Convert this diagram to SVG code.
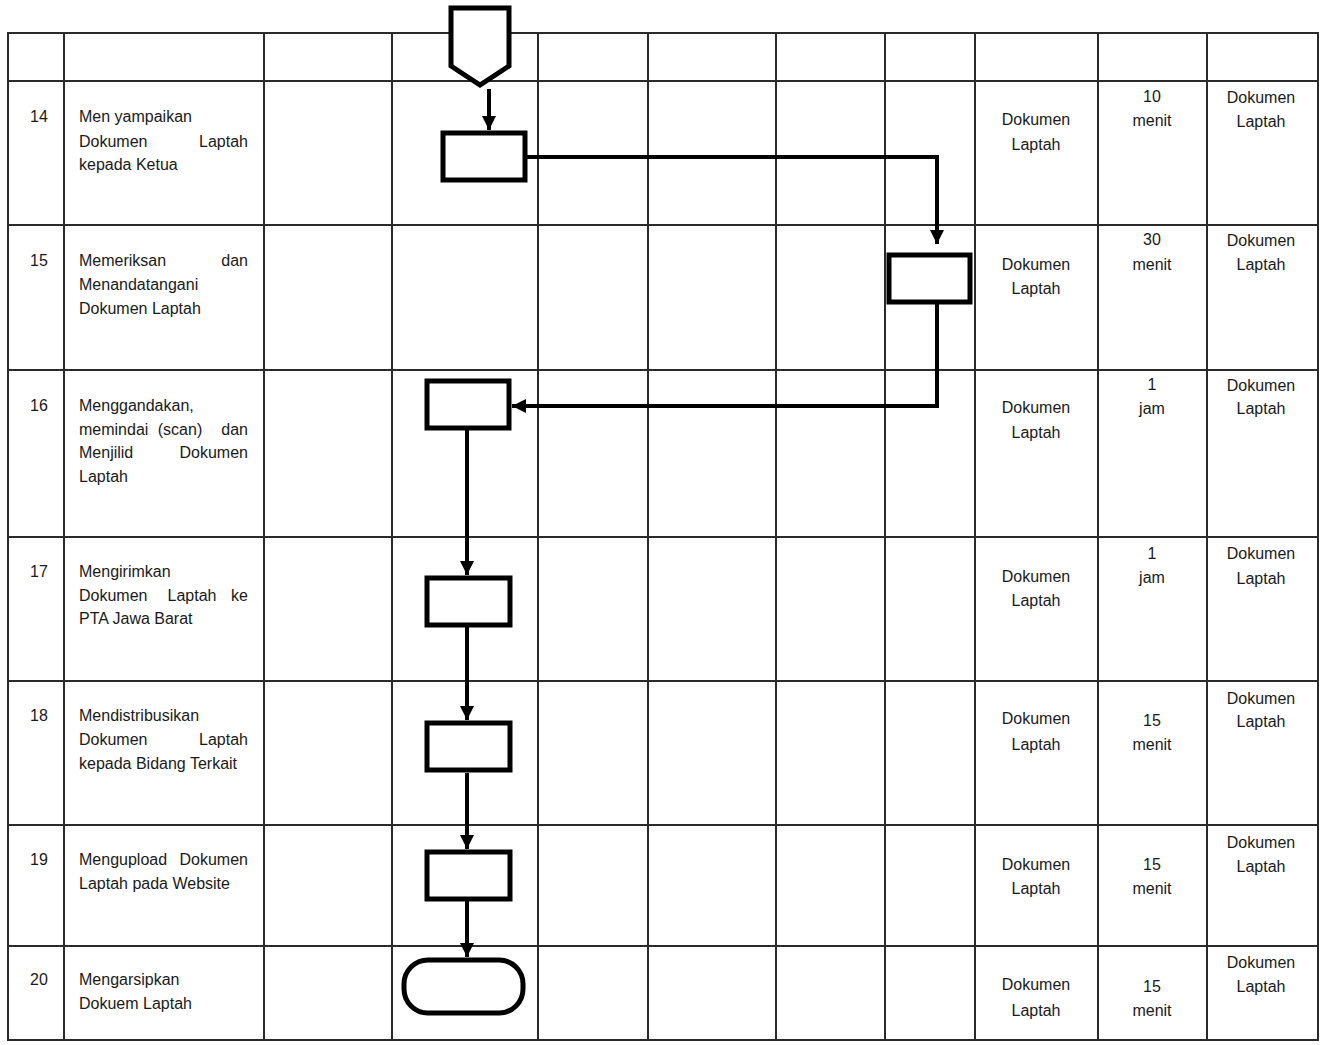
<svg xmlns="http://www.w3.org/2000/svg" width="1324" height="1045" viewBox="0 0 1324 1045">
<style>
.grid{stroke:#2a2a2a;stroke-width:2;fill:none}
.shape{fill:#fff;stroke:#000;stroke-width:5}
.conn{fill:none;stroke:#000;stroke-width:4}
text{font-family:"Liberation Sans",Arial,sans-serif;fill:#1a1a1a}
.t{font-size:16px}
.c{font-size:16px;text-anchor:middle}
.e{text-anchor:end}
.m{text-anchor:middle}
</style>
<defs>
<marker id="ah" markerUnits="userSpaceOnUse" markerWidth="14" markerHeight="14" refX="14" refY="7" orient="auto">
<path d="M0,0 L14,7 L0,14 z" fill="#000"/>
</marker>
</defs>
<rect width="1324" height="1045" fill="#fff"/>
<g id="table" class="grid">
<rect x="8" y="33" width="1310" height="1007"/>
<path d="M64,33V1040 M264,33V1040 M392,33V1040 M538,33V1040 M648,33V1040 M776,33V1040 M885,33V1040 M975,33V1040 M1098,33V1040 M1207,33V1040"/>
<path d="M8,81H1318 M8,225H1318 M8,370H1318 M8,537H1318 M8,681H1318 M8,825H1318 M8,946H1318"/>
</g>
<g id="connectors">
<path class="conn" d="M489,89 V130" marker-end="url(#ah)"/>
<path class="conn" d="M527,157 H937 V244" marker-end="url(#ah)"/>
<path class="conn" d="M937,303 V406 H512" marker-end="url(#ah)"/>
<path class="conn" d="M467,430 V575" marker-end="url(#ah)"/>
<path class="conn" d="M467,627 V720" marker-end="url(#ah)"/>
<path class="conn" d="M467,773 V849" marker-end="url(#ah)"/>
<path class="conn" d="M467,901 V957" marker-end="url(#ah)"/>
</g>
<g id="n-offpage"><path class="shape" d="M451,8 H509 V66 L480,85 L451,66 Z"/></g>
<g id="n14"><rect class="shape" x="443" y="133" width="82" height="47"/></g>
<g id="n15"><rect class="shape" x="889" y="255" width="81" height="47"/></g>
<g id="n16"><rect class="shape" x="427" y="381" width="82" height="47"/></g>
<g id="n17"><rect class="shape" x="427" y="578" width="83" height="47"/></g>
<g id="n18"><rect class="shape" x="427" y="723" width="83" height="47"/></g>
<g id="n19"><rect class="shape" x="427" y="852" width="83" height="47"/></g>
<g id="n20"><rect class="shape" x="404" y="960" width="119" height="53" rx="24" ry="24"/></g>
<g id="numbers" class="t">
<text x="30" y="122">14</text>
<text x="30" y="266">15</text>
<text x="30" y="411">16</text>
<text x="30" y="577">17</text>
<text x="30" y="721">18</text>
<text x="30" y="865">19</text>
<text x="30" y="985">20</text>
</g>
<g id="activities" class="t">
<text x="79" y="122">Men yampaikan</text>
<text x="79" y="147">Dokumen</text><text x="248" y="147" class="e">Laptah</text>
<text x="79" y="170">kepada Ketua</text>
<text x="79" y="266">Memeriksan</text><text x="248" y="266" class="e">dan</text>
<text x="79" y="290">Menandatangani</text>
<text x="79" y="314">Dokumen Laptah</text>
<text x="79" y="411">Menggandakan,</text>
<text x="79" y="435">memindai</text><text x="180" y="435" class="m">(scan)</text><text x="248" y="435" class="e">dan</text>
<text x="79" y="458">Menjilid</text><text x="248" y="458" class="e">Dokumen</text>
<text x="79" y="482">Laptah</text>
<text x="79" y="577">Mengirimkan</text>
<text x="79" y="601">Dokumen</text><text x="192" y="601" class="m">Laptah</text><text x="248" y="601" class="e">ke</text>
<text x="79" y="624">PTA Jawa Barat</text>
<text x="79" y="721">Mendistribusikan</text>
<text x="79" y="745">Dokumen</text><text x="248" y="745" class="e">Laptah</text>
<text x="79" y="769">kepada Bidang Terkait</text>
<text x="79" y="865">Mengupload</text><text x="248" y="865" class="e">Dokumen</text>
<text x="79" y="889">Laptah pada Website</text>
<text x="79" y="985">Mengarsipkan</text>
<text x="79" y="1009">Dokuem Laptah</text>
</g>
<g id="col-docs" class="c">
<text x="1036" y="125">Dokumen</text><text x="1036" y="150">Laptah</text>
<text x="1036" y="270">Dokumen</text><text x="1036" y="294">Laptah</text>
<text x="1036" y="413">Dokumen</text><text x="1036" y="438">Laptah</text>
<text x="1036" y="582">Dokumen</text><text x="1036" y="606">Laptah</text>
<text x="1036" y="724">Dokumen</text><text x="1036" y="750">Laptah</text>
<text x="1036" y="870">Dokumen</text><text x="1036" y="894">Laptah</text>
<text x="1036" y="990">Dokumen</text><text x="1036" y="1016">Laptah</text>
</g>
<g id="col-time" class="c">
<text x="1152" y="102">10</text><text x="1152" y="126">menit</text>
<text x="1152" y="245">30</text><text x="1152" y="270">menit</text>
<text x="1152" y="390">1</text><text x="1152" y="414">jam</text>
<text x="1152" y="559">1</text><text x="1152" y="583">jam</text>
<text x="1152" y="726">15</text><text x="1152" y="750">menit</text>
<text x="1152" y="870">15</text><text x="1152" y="894">menit</text>
<text x="1152" y="992">15</text><text x="1152" y="1016">menit</text>
</g>
<g id="col-output" class="c">
<text x="1261" y="103">Dokumen</text><text x="1261" y="127">Laptah</text>
<text x="1261" y="246">Dokumen</text><text x="1261" y="270">Laptah</text>
<text x="1261" y="391">Dokumen</text><text x="1261" y="414">Laptah</text>
<text x="1261" y="559">Dokumen</text><text x="1261" y="584">Laptah</text>
<text x="1261" y="704">Dokumen</text><text x="1261" y="727">Laptah</text>
<text x="1261" y="848">Dokumen</text><text x="1261" y="872">Laptah</text>
<text x="1261" y="968">Dokumen</text><text x="1261" y="992">Laptah</text>
</g>
</svg>
